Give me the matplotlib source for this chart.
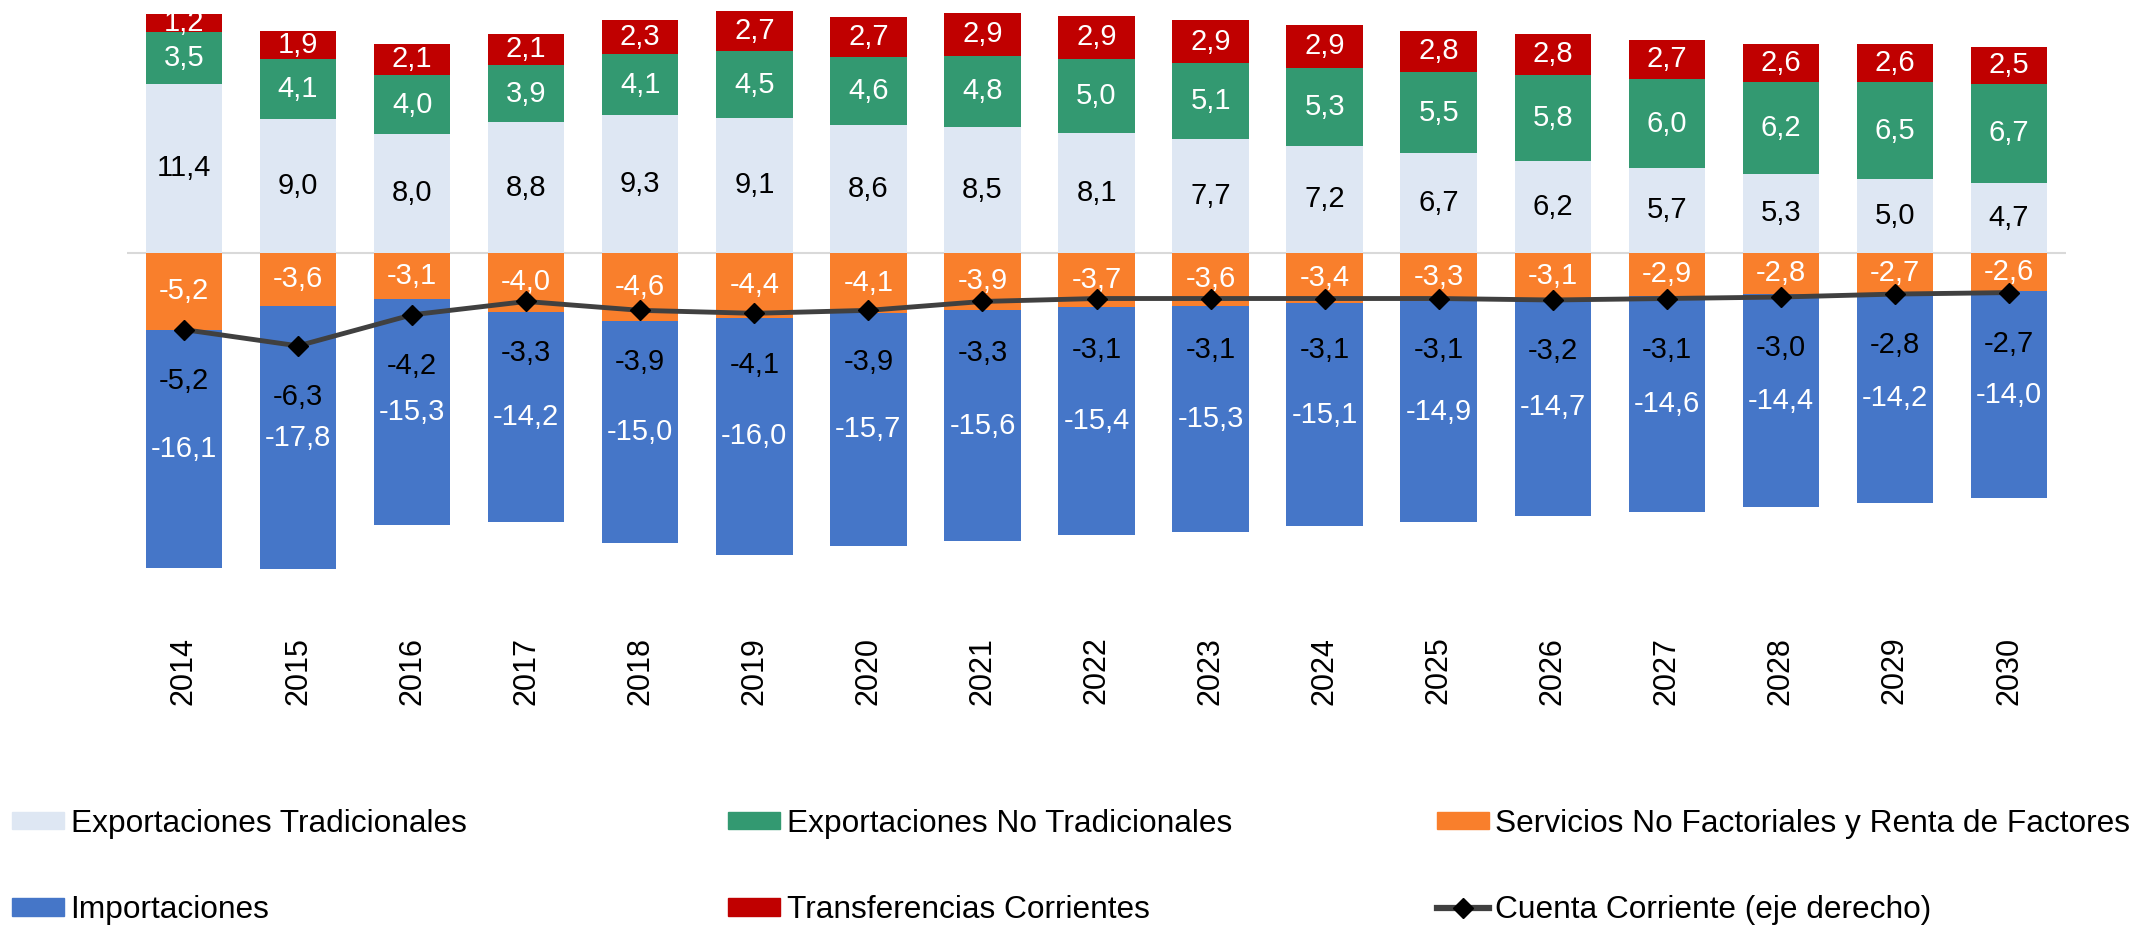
import numpy as np
import matplotlib.pyplot as plt
from matplotlib.lines import Line2D
from matplotlib.patches import Patch

plt.rcParams['font.family'] = ['Liberation Sans', 'DejaVu Sans']

# data (% del PBI)
years = [str(y) for y in range(2014, 2031)]
exp_trad = [11.4, 9.0, 8.0, 8.8, 9.3, 9.1, 8.6, 8.5, 8.1, 7.7, 7.2, 6.7, 6.2, 5.7, 5.3, 5.0, 4.7]
exp_no_trad = [3.5, 4.1, 4.0, 3.9, 4.1, 4.5, 4.6, 4.8, 5.0, 5.1, 5.3, 5.5, 5.8, 6.0, 6.2, 6.5, 6.7]
transf = [1.2, 1.9, 2.1, 2.1, 2.3, 2.7, 2.7, 2.9, 2.9, 2.9, 2.9, 2.8, 2.8, 2.7, 2.6, 2.6, 2.5]
servicios = [-5.2, -3.6, -3.1, -4.0, -4.6, -4.4, -4.1, -3.9, -3.7, -3.6, -3.4, -3.3, -3.1, -2.9, -2.8, -2.7, -2.6]
importaciones = [-16.1, -17.8, -15.3, -14.2, -15.0, -16.0, -15.7, -15.6, -15.4, -15.3, -15.1, -14.9, -14.7, -14.6, -14.4, -14.2, -14.0]
cuenta_corriente = [-5.2, -6.3, -4.2, -3.3, -3.9, -4.1, -3.9, -3.3, -3.1, -3.1, -3.1, -3.1, -3.2, -3.1, -3.0, -2.8, -2.7]

c_trad = "#DEE7F3"
c_notrad = "#339971"
c_serv = "#F97F2C"
c_imp = "#4576C8"
c_transf = "#C00000"
c_line = "#404040"

LABEL_FS = 21
YEAR_FS = 22
LEGEND_FS = 22.8


def fmt(v):
    return f"{v:.1f}".replace(".", ",")


fig = plt.figure(figsize=(21.41, 9.26), dpi=100)
ax = fig.add_axes([0.0593, 0.3244, 0.9057, 0.6745])

x = np.arange(len(years))
w = 0.67

exp_trad = np.array(exp_trad)
exp_no_trad = np.array(exp_no_trad)
transf = np.array(transf)
servicios = np.array(servicios)
importaciones = np.array(importaciones)

b1 = ax.bar(x, exp_trad, w, color=c_trad, label="Exportaciones Tradicionales")
b2 = ax.bar(x, exp_no_trad, w, bottom=exp_trad, color=c_notrad, label="Exportaciones No Tradicionales")
b3 = ax.bar(x, transf, w, bottom=exp_trad + exp_no_trad, color=c_transf, label="Transferencias Corrientes")
b4 = ax.bar(x, servicios, w, color=c_serv, label="Servicios No Factoriales y Renta de Factores")
b5 = ax.bar(x, importaciones, w, bottom=servicios, color=c_imp, label="Importaciones")

ax.bar_label(b1, labels=[fmt(v) for v in exp_trad], label_type="center", color="black", fontsize=LABEL_FS)
ax.bar_label(b2, labels=[fmt(v) for v in exp_no_trad], label_type="center", color="white", fontsize=LABEL_FS)
ax.bar_label(b3, labels=[fmt(v) for v in transf], label_type="center", color="white", fontsize=LABEL_FS)
ax.bar_label(b4, labels=[fmt(v) for v in servicios], label_type="center", color="white", fontsize=LABEL_FS)
ax.bar_label(b5, labels=[fmt(v) for v in importaciones], label_type="center", color="white", fontsize=LABEL_FS)

ax.axhline(0, color="#D9D9D9", lw=1.5, zorder=0.5)

ax.set_xlim(-0.5, len(years) - 0.5)
ax.set_ylim(-25.2, 17.0)
ax.set_xticks(x)
ax.set_xticklabels(years, rotation=90, fontsize=YEAR_FS)
ax.tick_params(axis="x", length=0, pad=8)
ax.set_yticks([])
for s in ax.spines.values():
    s.set_visible(False)

# current account on the right axis (same scale)
ax2 = ax.twinx()
ax2.set_ylim(ax.get_ylim())
ax2.plot(x, cuenta_corriente, color=c_line, lw=3.5, marker="D", markersize=10,
         markerfacecolor="black", markeredgecolor="black")
for xi, v in zip(x, cuenta_corriente):
    ax2.annotate(fmt(v), (xi, v), xytext=(0, -37), textcoords="offset points",
                 ha="center", va="center", fontsize=LABEL_FS, color="black")
ax2.set_yticks([])
for s in ax2.spines.values():
    s.set_visible(False)

# legend: three columns of two entries each
line_handle = Line2D([], [], color=c_line, lw=4.5, marker="D", markersize=10,
                     markerfacecolor="black", markeredgecolor="black")
cols = [
    ([Patch(color=c_trad), Patch(color=c_imp)], ["Exportaciones Tradicionales", "Importaciones"], 0.0056),
    ([Patch(color=c_notrad), Patch(color=c_transf)], ["Exportaciones No Tradicionales", "Transferencias Corrientes"], 0.340),
    ([Patch(color=c_serv), line_handle], ["Servicios No Factoriales y Renta de Factores", "Cuenta Corriente (eje derecho)"], 0.671),
]
for handles, labels, xpos in cols:
    fig.legend(handles, labels, loc="center left", bbox_to_anchor=(xpos, 0.0635),
               frameon=False, fontsize=LEGEND_FS, handlelength=1.65, handleheight=0.47,
               handletextpad=0.2, labelspacing=1.78, borderpad=0, borderaxespad=0)

fig.savefig("out.png", dpi=100)
